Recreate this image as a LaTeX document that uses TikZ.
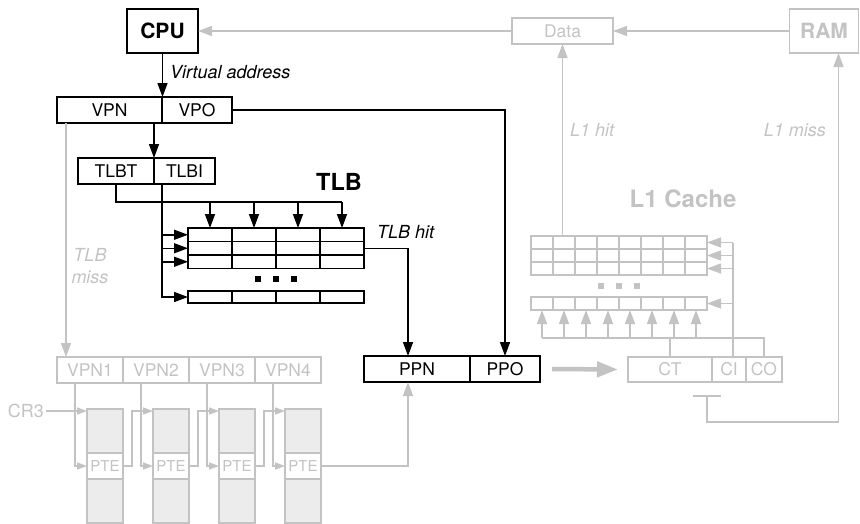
\documentclass[tikz,border=0pt]{standalone}
\usepackage{fontspec}
\setmainfont{TeX Gyre Heros}
\usetikzlibrary{arrows.meta, positioning, calc}
\definecolor{lgray}{RGB}{195, 195, 195}
\definecolor{ptefill}{RGB}{236, 236, 236}
\tikzset{
	box/.style={draw, line width=1.5pt, inner sep=0pt, outer sep=0pt, minimum height=26pt, font=\fontsize{17.5}{20}\selectfont},
	gbox/.style={box, draw=lgray, text=lgray},
	bigbox/.style={box, minimum height=44pt, font=\fontsize{21}{24}\selectfont\bfseries},
	row/.style={draw, line width=1.5pt, inner sep=0pt, outer sep=0pt, minimum width=176pt},
	arr/.style={line width=1.5pt, -{Triangle[length=14pt, width=10pt]}},
	garr/.style={arr, draw=lgray},
	sarr/.style={line width=1.5pt, draw=lgray, -{Triangle[length=10pt, width=7pt]}},
	gline/.style={draw=lgray, line width=1.5pt},
	lbl/.style={font=\fontsize{18}{22}\selectfont\itshape, inner sep=0pt},
}

\begin{document}
\begin{tikzpicture}[x=1pt, y=-1pt]
		\useasboundingbox (0,0) rectangle (860,523);

		\node[bigbox, minimum width=71pt] (cpu) at (162.5,31) {CPU};
		\node[gbox, minimum width=101pt] (data) at (562.5,31) {Data};
		\node[bigbox, draw=lgray, text=lgray, minimum width=69pt] (ram) at (824,31) {RAM};
		\draw[garr] (ram) -- (data);
		\draw[garr] (data) -- (cpu);

		\node[box, minimum width=105pt, anchor=west] (vpn) at (57,110) {VPN};
		\node[box, minimum width=70pt, right=0pt of vpn] (vpo) {VPO};
		\draw[arr] (cpu.south) -- (cpu.south |- vpn.north);
		\node[lbl, anchor=west] (vaddr) at (170,72) {Virtual address};

		\node[box, minimum width=76pt, anchor=west] (tlbt) at (78,171) {TLBT};
		\node[box, minimum width=61pt, right=0pt of tlbt] (tlbi) {TLBI};
		\draw[arr] (tlbt.north east |- vpn.south) -- (tlbt.north east);

		\foreach \i/\y in {1/234.75, 2/248.25, 3/261.75}
			\node[row, minimum height=13.5pt] (trow\i) at (276,\y) {};
		\node[row, minimum height=12pt] (trow4) at (276,297) {};
		\foreach \x in {232,276,320}
			\draw[line width=1.5pt] (\x,228) -- (\x,268.5) (\x,291) -- (\x,303);
		\foreach \x in {258,276,294}
			\fill (\x-3,276) rectangle (\x+3,282);
		\node[font=\fontsize{23.5}{26}\selectfont\bfseries] (tlblabel) at (339,182) {TLB};

		\draw[line width=1.5pt] (tlbt.south) |- (342,202);
		\foreach \x in {210,254,298,342}
			\draw[arr] (\x,202) -- (\x,202 |- trow1.north);
		\coordinate (tlbiout) at ($(tlbi.south west)+(8,0)$);
		\draw[arr] (tlbiout) |- (trow4.west);
		\foreach \i in {1,2,3}
			\draw[arr] (tlbiout |- trow\i.west) -- (trow\i.west);

		\node[lbl, anchor=west] (tlbhit) at (377,232) {TLB hit};
		\node[box, minimum width=106pt, anchor=west] (ppn) at (364,369) {PPN};
		\node[box, minimum width=70pt, right=0pt of ppn] (ppo) {PPO};
		\draw[arr] (trow2.east) -| ($(ppn.north)+(-9,0)$);
		\draw[arr] (vpo.east) -| (ppo.north);

		\node[gbox, minimum width=66pt, anchor=west] (vpn1) at (57,370) {VPN1};
		\foreach \i [count=\j from 1] in {2,3,4}
			\node[gbox, minimum width=66pt, right=0pt of vpn\j] (vpn\i) {VPN\i};
		\coordinate (missout) at ($(vpn.south west)+(9,0)$);
		\draw[garr] (missout) -- (missout |- vpn1.north);
		\node[lbl, text=lgray, align=center] (tlbmiss) at (90,266) {TLB\\miss};

		\foreach \i/\x in {1/105, 2/171, 3/237, 4/303} {
			\node[draw=lgray, fill=ptefill, line width=1.5pt, inner sep=0pt, outer sep=0pt, minimum width=36pt, minimum height=114pt] (col\i) at (\x,466) {};
			\node[gbox, fill=white, minimum width=36pt, font=\fontsize{15}{16}\selectfont] (pte\i) at (\x,466) {PTE};
		}
		\foreach \i in {1,...,4}
			\draw[sarr] ($(vpn\i.south west)+(18,0)$) |- (pte\i.west);
		\foreach \i [count=\j from 2] in {1,2,3}
			\draw[sarr] (pte\i.east) -- ++(9,0) |- ($(col\j.north west)+(0,2)$);
		\node[font=\fontsize{18}{20}\selectfont, text=lgray, anchor=east, inner sep=2pt] (cr3) at (46,411) {CR3};
		\draw[sarr] (cr3.east) -- ($(col1.north west)+(0,2)$);
		\draw[garr] (pte4.east) -| ($(ppn.south)+(-9,0)$);

		\foreach \i/\y in {1/242.5, 2/255.5, 3/268.5}
			\node[row, draw=lgray, minimum height=13pt] (crow\i) at (619,\y) {};
		\node[row, draw=lgray, minimum height=13pt] (crow4) at (619,303.5) {};
		\foreach \x in {553,575,...,685}
			\draw[gline] (\x,236) -- (\x,275) (\x,297) -- (\x,310);
		\foreach \x in {601,619,637}
			\fill[lgray] (\x-3,283) rectangle (\x+3,289);
		\node[font=\fontsize{24}{26}\selectfont\bfseries, text=lgray] (l1label) at (683,199) {L1 Cache};

		\node[gbox, minimum width=84pt, minimum height=25pt, anchor=west] (ct) at (628,369.5) {CT};
		\node[gbox, minimum width=34pt, minimum height=25pt, right=0pt of ct] (ci) {CI};
		\node[gbox, minimum width=36pt, minimum height=25pt, right=0pt of ci] (co) {CO};
		\draw[lgray, line width=4.5pt, -{Triangle[length=21pt, width=15pt]}] ($(ppo.east)+(12,0)$) -- ($(ct.west)+(-10,0)$);

		\coordinate (cibus) at ($(ci.north)+(4,0)$);
		\coordinate (cbus) at (0,338);
		\draw[gline] (cibus) -- (cibus |- crow1.east);
		\foreach \i in {1,...,4}
			\draw[garr] (cibus |- crow\i.east) -- (crow\i.east);
		\draw[gline] (ct.north) -- (ct.north |- cbus);
		\draw[gline] (co.north) -- (co.north |- cbus) -- (542,338);
		\foreach \x in {542,564,...,696}
			\draw[garr] (\x,338) -- (\x,338 |- crow4.south);

		\draw[garr] (data.south |- crow1.north) -- (data.south);
		\node[lbl, text=lgray, anchor=west] (l1hit) at (570,130) {L1 hit};
		\draw[garr] (707,396) -- (707,422) -| ($(ram.south east)+(-20,0)$);
		\draw[gline] (693,396) -- (721,396);
		\node[lbl, text=lgray, anchor=east] (l1miss) at (826,130) {L1 miss};
	\end{tikzpicture}
\end{document}
